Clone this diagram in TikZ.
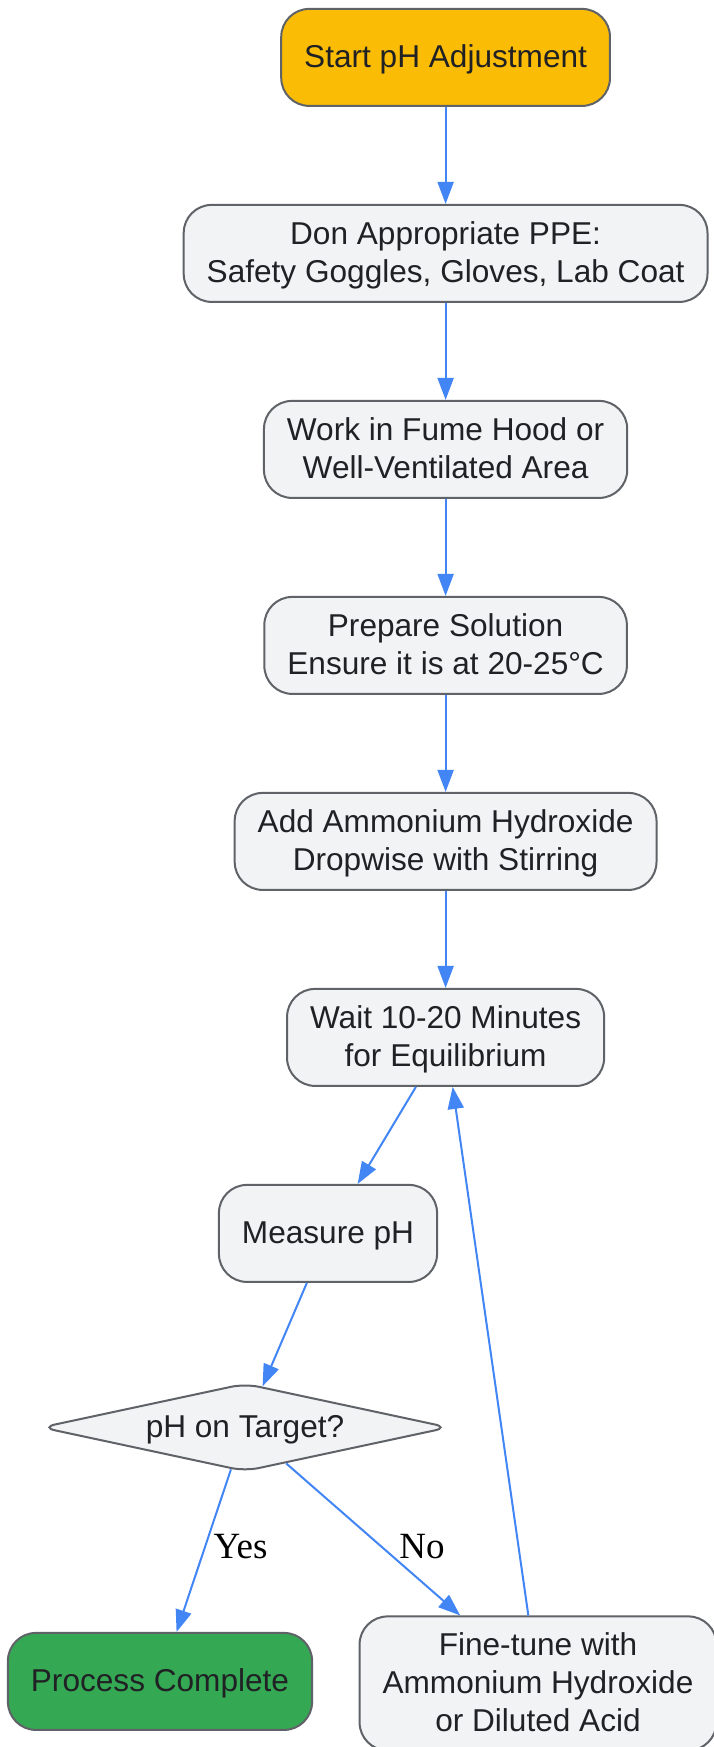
\documentclass[tikz,border=0pt]{standalone}
\usepackage{fontspec}
\setmainfont{Liberation Sans}
\newfontfamily\labelfont{Liberation Serif}
\usepackage{tikz}
\usetikzlibrary{arrows.meta, shapes.geometric}
\definecolor{flowblue}{HTML}{4285F4}
\definecolor{boxgray}{HTML}{F1F3F4}
\definecolor{boxline}{HTML}{5F6368}
\definecolor{startyellow}{HTML}{FBBC05}
\definecolor{donegreen}{HTML}{34A853}
\definecolor{inktext}{HTML}{202124}
% fixed line box, so every label sits at the same height
\newcommand{\lstrut}{\vrule width 0pt height 27pt depth 7pt}

\begin{document}
\begin{tikzpicture}[x=1pt,y=1pt,->,>={Triangle[length=22pt,width=16pt]},node distance=196pt]
                \tikzset{every node/.style={font=\fontsize{31.6}{38}\selectfont, text=inktext},
                         procbox/.style={draw=boxline, line width=2pt, fill=boxgray, rounded corners=28pt, align=center, minimum height=97pt, inner xsep=23pt, inner ysep=12pt},
                         decision/.style={diamond, draw=boxline, line width=2pt, fill=boxgray, rounded corners=14pt, aspect=5.6, inner sep=0pt, minimum width=408pt, minimum height=88pt},
                         flow/.style={draw=flowblue, line width=2pt},
                         answer/.style={font=\labelfont\fontsize{37}{44}\selectfont, text=black}}
                \useasboundingbox (0,0) rectangle (713,-1747);
                \fill[white] (0,0) rectangle (713,-1747);
                \node[procbox, fill=startyellow] (start) at (445.6,-57.4) {\lstrut Start pH Adjustment};
                \node[procbox] (ppe) [below of=start] {\lstrut Don Appropriate PPE:\\Safety Goggles, Gloves, Lab Coat\lstrut};
                \node[procbox] (hood) [below of=ppe] {\lstrut Work in Fume Hood or\\Well-Ventilated Area\lstrut};
                \node[procbox] (prep) [below of=hood] {\lstrut Prepare Solution\\Ensure it is at 20-25°C\lstrut};
                \node[procbox] (add) [below of=prep] {\lstrut Add Ammonium Hydroxide\\Dropwise with Stirring\lstrut};
                \node[procbox] (wait) [below of=add] {\lstrut Wait 10-20 Minutes\\for Equilibrium\lstrut};
                \node[procbox] (measure) [below of=wait, xshift=-117.6pt] {\lstrut Measure pH};
                \node[decision] (check) [below of=measure, xshift=-83pt, yshift=2pt] {\lstrut pH on Target?};
                \node[procbox, fill=donegreen] (done) [node distance=256pt, below of=check, xshift=-85pt, yshift=2pt] {\lstrut Process Complete};
                \node[procbox] (tune) [node distance=256pt, below of=check, xshift=293pt] {\lstrut Fine-tune with\\Ammonium Hydroxide\\or Diluted Acid\lstrut};
                \node[answer] (yes) at (240.6,-1547) {Yes};
                \node[answer] (no) at (422,-1547) {No};
                \path (start) edge[flow] (ppe);
                \path (ppe) edge[flow] (hood);
                \path (hood) edge[flow] (prep);
                \path (prep) edge[flow] (add);
                \path (add) edge[flow] (wait);
                \path (wait) edge[flow] (measure);
                \path (measure) edge[flow] (check);
                \path (check) edge[flow] (done);
                \path (check) edge[flow] (tune);
                \path (tune) edge[flow] (wait);
            \end{tikzpicture}
\end{document}
